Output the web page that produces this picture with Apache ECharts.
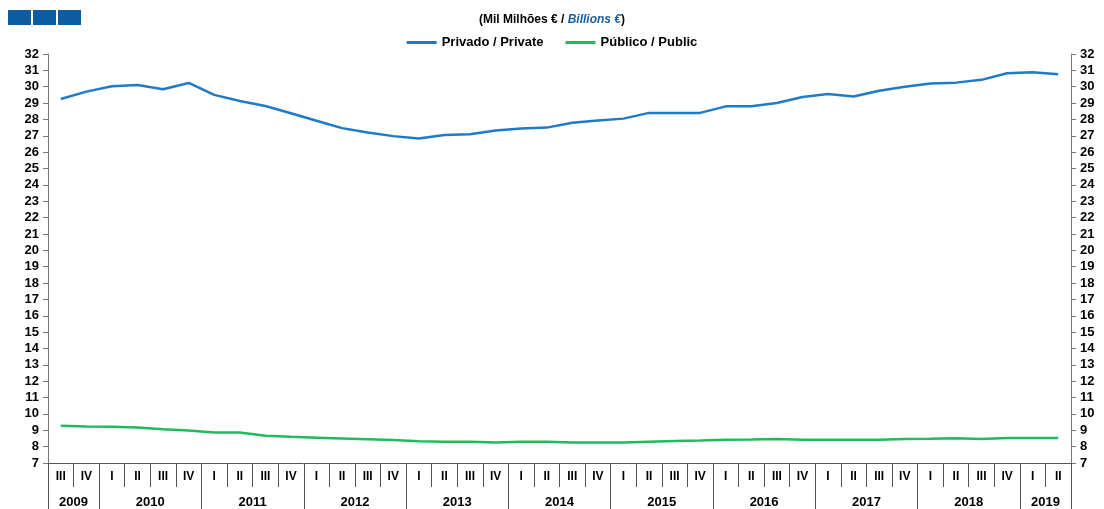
<!DOCTYPE html>
<html>
<head>
<meta charset="utf-8">
<script src="https://cdn.jsdelivr.net/npm/echarts@6/dist/echarts.min.js"></script>
<style>
  html, body { margin: 0; padding: 0; background: #fff; }
  #chart { width: 1104px; height: 509px; }
</style>
</head>
<body>
<div id="chart"></div>
<script>
// quarters from 2009 III to 2019 II
const years = ['2009', '2010', '2011', '2012', '2013', '2014', '2015', '2016', '2017', '2018', '2019'];
const quartersPerYear = [2, 4, 4, 4, 4, 4, 4, 4, 4, 4, 2];
const quarters = [
  'III', 'IV',
  'I', 'II', 'III', 'IV', 'I', 'II', 'III', 'IV', 'I', 'II', 'III', 'IV',
  'I', 'II', 'III', 'IV', 'I', 'II', 'III', 'IV', 'I', 'II', 'III', 'IV',
  'I', 'II', 'III', 'IV', 'I', 'II', 'III', 'IV', 'I', 'II', 'III', 'IV',
  'I', 'II'
];
const privado = [
  29.25, 29.7, 30.03, 30.1, 29.85, 30.23, 29.5, 29.13, 28.82, 28.38,
  27.92, 27.47, 27.2, 26.98, 26.83, 27.05, 27.1, 27.33, 27.45, 27.5,
  27.8, 27.93, 28.05, 28.4, 28.4, 28.4, 28.8, 28.8, 29.0, 29.37,
  29.55, 29.4, 29.75, 30.0, 30.2, 30.25, 30.42, 30.82, 30.88, 30.76
];
const publico = [
  9.28, 9.23, 9.22, 9.17, 9.07, 8.98, 8.86, 8.86, 8.67, 8.6,
  8.55, 8.5, 8.45, 8.4, 8.33, 8.3, 8.3, 8.25, 8.3, 8.3,
  8.25, 8.25, 8.25, 8.3, 8.35, 8.37, 8.42, 8.43, 8.47, 8.42,
  8.42, 8.42, 8.42, 8.47, 8.48, 8.52, 8.47, 8.53, 8.53, 8.53
];

const BLUE = '#1f7ac8';
const GREEN = '#20bb5c';
const FONT = '"Liberation Sans Narrow", "Liberation Sans", Arial, sans-serif';

// year boundaries and centres on a 0..40 scale (same as category bands)
const yearEdges = [0];
const yearMids = [];
quartersPerYear.forEach(n => {
  const start = yearEdges[yearEdges.length - 1];
  yearMids.push(start + n / 2);
  yearEdges.push(start + n);
});

const chart = echarts.init(document.getElementById('chart'), null, { renderer: 'canvas' });

const yAxisCommon = {
  type: 'value',
  min: 7,
  max: 32,
  interval: 1,
  splitLine: { show: false },
  axisLine: { show: true, lineStyle: { color: '#777', width: 1 } },
  axisTick: { show: true, length: 5, lineStyle: { color: '#777' } },
  axisLabel: { color: '#000', fontWeight: 'bold', fontSize: 13, fontFamily: 'Liberation Sans, Arial, sans-serif', margin: 9 }
};

chart.setOption({
  animation: false,
  title: {
    text: '(Mil Milhões € / {b|Billions €})',
    left: 'center',
    top: 9,
    textStyle: {
      fontSize: 12,
      fontWeight: 'bold',
      color: '#000',
      fontFamily: FONT,
      rich: {
        b: { fontSize: 12, fontWeight: 'bold', fontStyle: 'italic', color: '#1a5fa8', fontFamily: FONT }
      }
    }
  },
  graphic: [
    { type: 'rect', left: 8, top: 10, shape: { width: 23, height: 15 }, style: { fill: '#0b5ca1' } },
    { type: 'rect', left: 33, top: 10, shape: { width: 23, height: 15 }, style: { fill: '#0b5ca1' } },
    { type: 'rect', left: 58, top: 10, shape: { width: 23, height: 15 }, style: { fill: '#0b5ca1' } }
  ],
  legend: {
    top: 31,
    left: 'center',
    itemGap: 22,
    itemWidth: 30,
    itemHeight: 3,
    icon: 'rect',
    textStyle: { fontSize: 13, fontWeight: 'bold', color: '#000', fontFamily: FONT },
    data: ['Privado / Private', 'Público / Public']
  },
  grid: { left: 48, right: 33, top: 54, bottom: 46, containLabel: false },
  xAxis: [
    {
      type: 'category',
      data: quarters,
      boundaryGap: true,
      position: 'bottom',
      axisLine: { show: true, lineStyle: { color: '#555', width: 1 } },
      axisTick: { show: true, interval: 0, length: 24, lineStyle: { color: '#555' } },
      axisLabel: { interval: 0, margin: 8, color: '#000', fontWeight: 'bold', fontSize: 12, fontFamily: FONT },
      splitLine: { show: false }
    },
    {
      type: 'value',
      min: 0,
      max: quarters.length,
      position: 'bottom',
      axisLine: { show: false },
      splitLine: { show: false },
      axisTick: { show: true, length: 46, customValues: yearEdges, lineStyle: { color: '#555' } },
      axisLabel: {
        customValues: yearMids,
        margin: 33,
        color: '#000',
        fontWeight: 'bold',
        fontSize: 13,
        fontFamily: FONT,
        formatter: v => years[yearMids.indexOf(v)]
      }
    }
  ],
  yAxis: [
    Object.assign({}, yAxisCommon, { position: 'left' }),
    Object.assign({}, yAxisCommon, { position: 'right' })
  ],
  series: [
    {
      name: 'Privado / Private',
      type: 'line',
      xAxisIndex: 0,
      yAxisIndex: 0,
      data: privado,
      showSymbol: false,
      symbol: 'none',
      lineStyle: { color: BLUE, width: 2.5 },
      itemStyle: { color: BLUE }
    },
    {
      name: 'Público / Public',
      type: 'line',
      xAxisIndex: 0,
      yAxisIndex: 0,
      data: publico,
      showSymbol: false,
      symbol: 'none',
      lineStyle: { color: GREEN, width: 2.5 },
      itemStyle: { color: GREEN }
    }
  ]
});
</script>
</body>
</html>
